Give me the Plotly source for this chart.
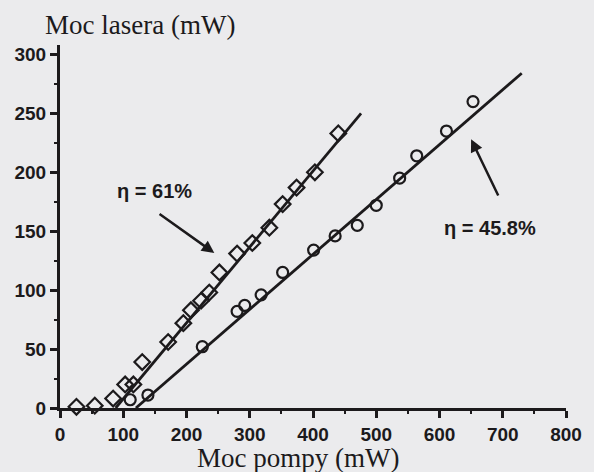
import plotly.graph_objects as go

# Series 1 (eta = 61%), diamond markers
pump1 = [26, 55, 84, 103, 116, 130, 171, 195, 207, 223, 236, 252, 280, 304, 331, 352, 374, 403, 440]
laser1 = [1, 2, 8, 20, 20, 39, 56, 72, 83, 91, 98, 115, 131, 140, 153, 173, 187, 200, 233]

# Series 2 (eta = 45.8%), circle markers
pump2 = [111, 139, 225, 280, 292, 318, 352, 401, 435, 470, 500, 537, 564, 611, 653]
laser2 = [7, 11, 52, 82, 87, 96, 115, 134, 146, 155, 172, 195, 214, 235, 260]

# Fitted lines (end points)
fit1_x = [88, 476]
fit1_y = [0, 250]
fit2_x = [120, 730]
fit2_y = [0, 284]

x_ticks = [0, 100, 200, 300, 400, 500, 600, 700, 800]
y_ticks = [0, 50, 100, 150, 200, 250, 300]

ink = "#1c1a1c"
bg = "#ebebed"

fig = go.Figure()
fig.add_trace(go.Scatter(x=fit1_x, y=fit1_y, mode="lines",
                         line=dict(color=ink, width=2.8), cliponaxis=False, showlegend=False))
fig.add_trace(go.Scatter(x=fit2_x, y=fit2_y, mode="lines",
                         line=dict(color=ink, width=2.8), cliponaxis=False, showlegend=False))
fig.add_trace(go.Scatter(x=pump1, y=laser1, mode="markers",
                         marker=dict(symbol="diamond-open", size=12, color=ink, line=dict(width=2.2, color=ink)),
                         cliponaxis=False, showlegend=False))
fig.add_trace(go.Scatter(x=pump2, y=laser2, mode="markers",
                         marker=dict(symbol="circle-open", size=11, color=ink, line=dict(width=2.2, color=ink)),
                         cliponaxis=False, showlegend=False))

tickfont = dict(family="Liberation Sans", size=19, color=ink, weight="bold")

fig.update_xaxes(range=[0, 800], tickvals=x_ticks, ticktext=[str(v) for v in x_ticks],
                 showgrid=False, zeroline=False, showline=True, linecolor=ink, linewidth=3,
                 ticks="outside", ticklen=7, tickwidth=2.5, tickcolor=ink, tickfont=tickfont,
                 minor=dict(tickvals=[50, 150, 250, 350, 450, 550, 650, 750], ticks="outside",
                            ticklen=3, tickwidth=2, tickcolor=ink))
fig.update_yaxes(range=[0, 308], tickvals=y_ticks, ticktext=[str(v) for v in y_ticks],
                 showgrid=False, zeroline=False, showline=True, linecolor=ink, linewidth=3,
                 ticks="outside", ticklen=7, tickwidth=2.5, tickcolor=ink, tickfont=tickfont,
                 minor=dict(tickvals=[25, 75, 125, 175, 225, 275], ticks="outside",
                            ticklen=3, tickwidth=2, tickcolor=ink))

titlefont = dict(family="Liberation Serif", size=27, color=ink)
annfont = dict(family="Liberation Sans", size=20, color=ink, weight="bold")

fig.update_layout(
    width=594, height=472,
    margin=dict(l=60, r=19, t=45, b=64),
    paper_bgcolor=bg, plot_bgcolor=bg,
    annotations=[
        dict(text="Moc lasera (mW)", xref="paper", yref="paper", x=0.159, y=1.055,
             showarrow=False, font=titlefont, xanchor="center", yanchor="middle"),
        dict(text="Moc pompy (mW)", xref="paper", yref="paper", x=0.47, y=-0.138,
             showarrow=False, font=titlefont, xanchor="center", yanchor="middle"),
        dict(text="η = 61%", x=150, y=184, xref="x", yref="y", showarrow=False,
             font=annfont, xanchor="center", yanchor="middle"),
        dict(text="η = 45.8%", x=680, y=153, xref="x", yref="y", showarrow=False,
             font=annfont, xanchor="center", yanchor="middle"),
        dict(text="", x=244, y=131.5, ax=155, ay=165.5, xref="x", yref="y", axref="x", ayref="y",
             showarrow=True, arrowhead=2, arrowsize=1, arrowwidth=2.5, arrowcolor=ink),
        dict(text="", x=650, y=228, ax=694, ay=179, xref="x", yref="y", axref="x", ayref="y",
             showarrow=True, arrowhead=2, arrowsize=1, arrowwidth=2.5, arrowcolor=ink),
    ],
)

fig.write_html("out.html")
